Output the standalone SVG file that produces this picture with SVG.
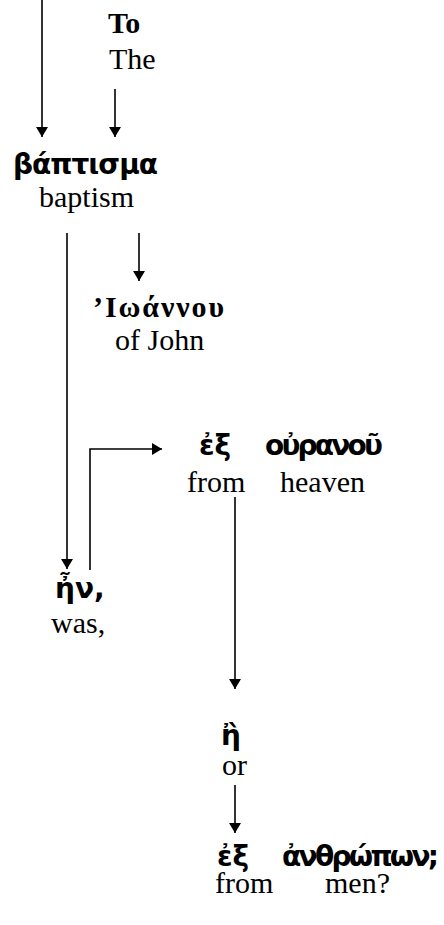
<svg xmlns="http://www.w3.org/2000/svg" width="444" height="925" viewBox="0 0 444 925">
<style>
.en{font-family:"Liberation Serif","Times New Roman",serif;font-size:30px;fill:#000}
.enb{font-family:"Liberation Serif","Times New Roman",serif;font-size:30px;font-weight:bold;fill:#000}
.gr{font-family:"DejaVu Sans","Noto Sans",sans-serif;font-size:28px;font-weight:bold;fill:#000}
.grs{font-family:"Liberation Serif","DejaVu Serif",serif;font-size:30px;font-weight:bold;fill:#000}
.ln{fill:none;stroke:#000;stroke-width:1.6}
</style>
<defs>
<marker id="ah" viewBox="0 0 10 12" refX="10" refY="6" markerWidth="10" markerHeight="12" markerUnits="userSpaceOnUse" orient="auto">
<path d="M0,0 L10,6 L0,12 Z" fill="#000"/>
</marker>
</defs>
<g id="connectors">
<path class="ln" d="M42,0 V137" marker-end="url(#ah)"/>
<path class="ln" d="M115,89 V137" marker-end="url(#ah)"/>
<path class="ln" d="M67,233 V569" marker-end="url(#ah)"/>
<path class="ln" d="M139,233 V281" marker-end="url(#ah)"/>
<path class="ln" d="M90,570 V449 H162" marker-end="url(#ah)"/>
<path class="ln" d="M235,497 V689" marker-end="url(#ah)"/>
<path class="ln" d="M235,785 V833" marker-end="url(#ah)"/>
</g>
<g id="n-to">
<text class="enb" x="108" y="33">To</text>
<text class="en" x="109" y="69">The</text>
</g>
<g id="n-baptisma">
<text class="gr" x="13" y="174" textLength="145">βάπτισμα</text>
<text class="en" x="39" y="207">baptism</text>
</g>
<g id="n-ioannou">
<text class="grs" x="93" y="317" textLength="131">’Ιωάννου</text>
<text class="en" x="115" y="350">of John</text>
</g>
<g id="n-ex-ouranou">
<text class="gr" x="199" y="455">ἐξ</text>
<text class="gr" x="265" y="455" textLength="118">οὐρανοῦ</text>
<text class="en" x="187" y="492">from</text>
<text class="en" x="280" y="492">heaven</text>
</g>
<g id="n-en">
<text class="gr" x="55" y="598">ἦν,</text>
<text class="en" x="51" y="633">was,</text>
</g>
<g id="n-e">
<text class="gr" x="221" y="745">ἢ</text>
<text class="en" x="222" y="775">or</text>
</g>
<g id="n-ex-anthropon">
<text class="gr" x="217" y="866">ἐξ</text>
<text class="gr" x="282" y="866" textLength="157">ἀνθρώπων;</text>
<text class="en" x="215" y="893">from</text>
<text class="en" x="325" y="893">men?</text>
</g>
</svg>
